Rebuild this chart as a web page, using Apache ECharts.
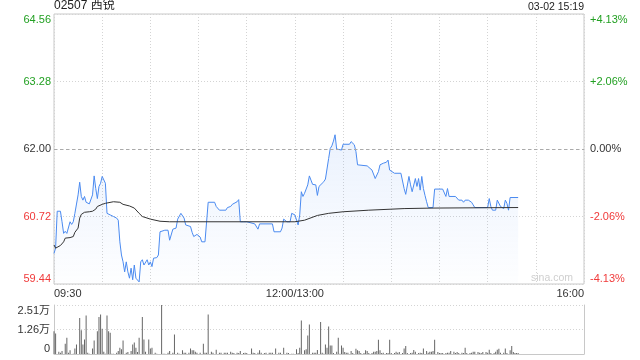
<!DOCTYPE html>
<html><head><meta charset="utf-8">
<script src="https://cdn.jsdelivr.net/npm/echarts@6/dist/echarts.min.js"></script>
<style>html,body{margin:0;padding:0;background:#fff}#c{width:640px;height:360px}</style>
</head><body><div id="c"></div>
<script>
const stockName = '02507 西锐';
const timeStamp = '03-02 15:19';
const watermark = 'sina.com';
const preClose = 62.00;
const priceTickLabels = ['59.44', '60.72', '62.00', '63.28', '64.56'];
const pctTickLabels = ['-4.13%', '-2.06%', '0.00%', '+2.06%', '+4.13%'];
const timeTickMinutes = [0, 150, 330];
const timeTickLabels = ['09:30', '12:00/13:00', '16:00'];
const volTickLabels = ['0', '1.26万', '2.51万'];
const volMax = 25100;

// trading minutes since 09:30 (12:00 -> 150, 13:00 continues at 150)
const priceMinutes = [0,1,2,4,5,6,7,8,9,10,11,12,13,14,15,16,17,18,19,20,21,22,23,24,25,26,27,28,29,30,31,32,33,35,37,39,40,41,42,43,44,45,46,47,48,49,50,51,52,53,54,55,56,57,58,59,60,61,62,63,64,65,66,67,69,70,71,72,73,74,75,76,77,78,79,80,81,82,83,85,86,87,88,89,90,91,92,94,95,96,100,101,102,103,107,108,110,111,112,114,115,116,118,119,120,121,125,126,127,128,136,137,141,142,143,144,145,147,148,149,150,151,152,153,154,155,156,157,158,159,160,161,163,164,165,166,168,169,170,171,172,173,174,175,176,177,179,180,184,185,186,187,188,189,195,196,198,199,200,202,203,204,205,207,208,209,210,212,216,217,218,219,220,221,222,223,224,225,226,227,228,229,230,231,232,233,236,237,242,243,244,245,246,250,251,252,254,255,256,258,259,260,261,262,270,271,272,273,275,276,277,278,279,280,281,282,283,284,289];
const prices = [60.02,60.12,60.82,60.82,60.62,60.40,60.44,60.40,60.37,60.62,60.57,60.62,60.78,60.80,61.13,61.37,61.10,61.03,61.10,60.99,61.00,60.96,60.94,61.13,61.49,61.25,61.06,61.29,61.35,61.48,61.49,61.35,60.78,60.75,60.72,60.69,60.65,60.24,59.99,59.86,59.67,59.86,59.67,59.55,59.74,59.52,59.80,59.55,59.52,59.48,59.86,59.90,59.80,59.77,59.90,59.80,59.86,59.77,59.93,59.94,59.94,59.99,60.43,60.44,60.46,60.43,60.46,60.27,60.27,60.48,60.50,60.50,60.67,60.70,60.78,60.78,60.69,60.56,60.56,60.53,60.42,60.34,60.37,60.38,60.37,60.33,60.24,60.24,60.23,60.99,60.99,60.91,60.89,60.84,60.84,60.89,60.91,60.95,60.97,61.00,61.04,60.62,60.62,60.65,60.62,60.59,60.58,60.56,60.48,60.58,60.58,60.43,60.43,60.50,60.67,60.67,60.62,60.62,60.78,60.78,60.75,60.74,60.56,60.75,61.19,61.10,61.16,61.13,61.32,61.49,61.41,61.33,61.32,61.12,61.29,61.32,61.38,61.43,61.44,61.82,62.01,62.06,62.15,62.27,62.00,61.98,61.98,62.09,62.09,62.14,62.14,62.08,61.95,61.70,61.68,61.65,61.60,61.57,61.44,61.57,61.70,61.70,61.73,61.75,61.79,61.60,61.57,61.54,61.54,61.52,61.25,61.14,61.16,61.48,61.32,61.19,61.19,61.44,61.29,61.44,61.22,61.48,61.25,61.12,61.00,60.89,60.89,61.24,61.24,61.22,61.10,61.25,61.10,61.10,61.08,61.03,61.03,60.99,61.03,61.03,61.01,60.99,60.94,60.89,60.89,61.06,60.91,60.84,60.84,61.03,61.03,60.91,60.94,60.87,61.03,60.97,60.84,61.08,61.08];

const avgMinutes = [0,1,4,6,7,10,12,13,15,16,17,19,22,24,26,27,28,30,32,33,37,41,43,47,50,53,55,60,66,72,150,156,164,171,180,196,218,236,289];
const avgPrices = [60.18,60.12,60.17,60.24,60.31,60.32,60.34,60.42,60.50,60.69,60.76,60.80,60.81,60.82,60.86,60.91,60.94,60.95,60.97,61.00,61.00,60.99,60.95,60.92,60.88,60.78,60.72,60.67,60.63,60.62,60.62,60.65,60.74,60.78,60.81,60.84,60.87,60.88,60.89];

const volMinutes = [0,1,3,4,5,7,8,9,10,12,13,14,16,17,18,19,20,21,22,24,25,27,28,29,30,31,32,33,34,35,36,37,39,40,41,42,43,45,46,48,49,50,51,52,53,55,56,57,59,60,61,63,64,67,68,69,71,72,74,75,77,78,80,81,82,84,85,86,87,88,89,91,93,94,95,96,98,99,101,103,104,106,107,108,110,111,112,114,115,116,118,119,120,123,124,125,127,128,129,131,132,134,135,136,138,140,141,143,145,146,148,149,151,152,153,154,156,157,158,159,161,162,163,164,166,167,168,169,170,171,172,173,174,176,177,178,179,180,181,182,183,185,186,188,189,190,191,193,194,195,196,198,199,200,201,202,203,204,205,207,208,209,210,212,213,214,215,217,218,219,220,222,223,224,225,227,228,229,230,232,233,234,235,236,237,239,240,241,242,244,245,246,247,249,250,251,252,254,255,256,257,259,260,261,262,264,265,266,267,269,270,271,272,274,275,276,277,278,280,281,282,284,285,286,287,288,289];
const volumes = [11700,10500,1190,680,1530,5260,8310,680,1870,170,2880,4920,18490,12210,4920,7460,19670,680,170,2880,6950,11700,19000,20180,12890,1190,170,19670,11700,10850,170,170,680,1530,3220,2370,6950,680,1020,1530,4920,5940,3220,1020,8310,19000,7460,1190,7460,2880,3220,680,170,25100,170,170,680,1530,680,10010,680,170,1870,680,680,680,2880,1870,1870,1190,680,680,5260,680,680,20180,1190,680,2200,680,680,680,680,680,1190,680,510,680,510,1530,510,680,510,2880,680,510,680,1870,680,510,680,680,680,680,2880,680,680,3220,680,510,170,170,2370,510,3220,17130,1870,2370,9500,15090,680,680,680,2040,16450,680,170,4920,3220,14080,4410,4410,510,1190,8310,170,4410,3220,1020,680,680,1530,510,2710,1870,1530,510,510,1870,1530,510,510,1190,1190,1530,7290,1870,510,680,510,510,7290,510,510,1190,680,1020,510,2880,4070,510,510,680,2040,1190,510,680,510,2880,1530,680,1190,1190,1530,7290,1020,510,510,510,510,680,680,1530,1190,510,1020,510,680,510,3220,510,510,680,1190,1190,1020,680,510,1020,1020,680,2200,510,510,1190,2200,2710,680,680,2880,510,1870,4070,1020,510,510,510];

const UP = '#22a022', DOWN = '#f03a3a', NEUTRAL = '#333';
const FONT = 'Arial, "Liberation Sans", "Noto Sans CJK SC", sans-serif';
const pMin = parseFloat(priceTickLabels[0]);
const pMax = parseFloat(priceTickLabels[priceTickLabels.length - 1]);
const pStep = (pMax - pMin) / (priceTickLabels.length - 1);
const tickIdx = v => Math.round((parseFloat(v) - pMin) / pStep);
const tickColor = v => {
  const i = tickIdx(v), mid = (priceTickLabels.length - 1) / 2;
  return i > mid ? UP : (i < mid ? DOWN : NEUTRAL);
};

const priceData = priceMinutes.map((m, i) => [m, prices[i]]);
const avgData = avgMinutes.map((m, i) => [m, avgPrices[i]]);
const volData = volMinutes.map((m, i) => [m, volumes[i]]);

const dotted = { color: '#d4d4d4', type: [1, 2], width: 1 };
const chart = echarts.init(document.getElementById('c'), null, { renderer: 'canvas' });
chart.setOption({
  animation: false,
  textStyle: { fontFamily: FONT },
  title: [
    { text: stockName, left: 54, top: 0, padding: 0, textStyle: { fontSize: 12, fontWeight: 'normal', color: '#222', fontFamily: FONT } },
    { text: timeStamp, right: 56, top: 2, padding: 0, textStyle: { fontSize: 10.5, fontWeight: 'normal', color: '#222', fontFamily: FONT } }
  ],
  graphic: [{
    type: 'text', right: 67, top: 273,
    style: { text: watermark, fill: '#cfcfcf', font: '10.5px ' + FONT }
  }],
  grid: [
    { left: 54, top: 14, width: 530, height: 270, show: true, borderColor: '#c8c8c8', borderWidth: 1, backgroundColor: 'transparent' },
    { left: 54, top: 305, width: 530, height: 49 }
  ],
  xAxis: [
    {
      type: 'value', gridIndex: 0, min: 0, max: 330, interval: 30,
      axisLine: { show: false }, axisTick: { show: false },
      splitLine: { show: true, lineStyle: dotted },
      axisLabel: {
        show: true, margin: 4, fontSize: 11, color: '#333', fontFamily: FONT,
        alignMinLabel: 'left', alignMaxLabel: 'right',
        showMinLabel: true, showMaxLabel: true,
        formatter: v => { const k = timeTickMinutes.indexOf(Math.round(v)); return k >= 0 ? timeTickLabels[k] : ''; }
      }
    },
    {
      type: 'value', gridIndex: 1, min: 0, max: 330, interval: 30,
      axisLine: { show: true, lineStyle: { color: '#c8c8c8' } }, axisTick: { show: false },
      splitLine: { show: false }, axisLabel: { show: false }
    }
  ],
  yAxis: [
    {
      type: 'value', gridIndex: 0, min: pMin, max: pMax, interval: pStep, position: 'left',
      axisLine: { show: false }, axisTick: { show: false },
      splitLine: { show: true, lineStyle: dotted },
      axisLabel: {
        margin: 3, fontSize: 11, fontFamily: FONT,
        verticalAlignMinLabel: 'bottom', verticalAlignMaxLabel: 'top',
        formatter: v => priceTickLabels[tickIdx(v)],
        color: v => tickColor(v)
      }
    },
    {
      type: 'value', gridIndex: 0, min: pMin, max: pMax, interval: pStep, position: 'right',
      axisLine: { show: false }, axisTick: { show: false }, splitLine: { show: false },
      axisLabel: {
        margin: 6, fontSize: 11, fontFamily: FONT,
        verticalAlignMinLabel: 'bottom', verticalAlignMaxLabel: 'top',
        formatter: v => pctTickLabels[tickIdx(v)],
        color: v => tickColor(v)
      }
    },
    {
      type: 'value', gridIndex: 1, min: 0, max: volMax, interval: volMax / 2, position: 'left',
      axisLine: { show: true, lineStyle: { color: '#c8c8c8' } }, axisTick: { show: false },
      splitLine: { show: true, lineStyle: dotted },
      axisLabel: {
        margin: 4, fontSize: 11, color: '#333', fontFamily: FONT,
        verticalAlignMinLabel: 'bottom', verticalAlignMaxLabel: 'top',
        formatter: v => volTickLabels[Math.round(v / (volMax / 2))]
      }
    },
    {
      type: 'value', gridIndex: 1, min: 0, max: volMax, interval: volMax / 2, position: 'right',
      axisLine: { show: true, lineStyle: { color: '#c8c8c8' } }, axisTick: { show: false },
      splitLine: { show: false }, axisLabel: { show: false }
    }
  ],
  series: [
    {
      type: 'line', xAxisIndex: 0, yAxisIndex: 0, data: priceData, symbol: 'none',
      lineStyle: { color: '#4a8af0', width: 1 },
      areaStyle: {
        origin: 'start',
        color: new echarts.graphic.LinearGradient(0, 0, 0, 1, [
          { offset: 0, color: 'rgba(74,138,240,0.16)' },
          { offset: 1, color: 'rgba(74,138,240,0.01)' }
        ])
      },
      markLine: {
        silent: true, symbol: 'none', label: { show: false },
        lineStyle: { color: '#aaa', type: [3, 3], width: 1 },
        data: [{ yAxis: preClose }]
      },
      z: 3
    },
    {
      type: 'line', xAxisIndex: 0, yAxisIndex: 0, data: avgData, symbol: 'none',
      lineStyle: { color: '#333', width: 1 }, z: 4
    },
    {
      type: 'bar', xAxisIndex: 1, yAxisIndex: 2, data: volData, barWidth: 1,
      itemStyle: { color: '#666' }
    }
  ]
});
</script></body></html>
